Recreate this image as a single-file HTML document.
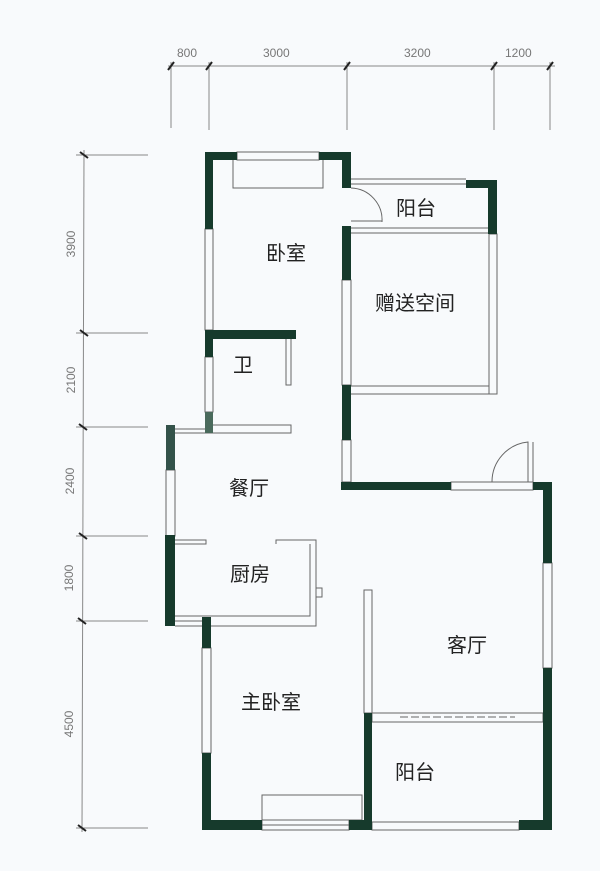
<!DOCTYPE html>
<html><head><meta charset="utf-8"><style>
html,body{margin:0;padding:0;background:#f8fafc;}
svg{display:block}
text{font-family:"Liberation Sans","Noto Sans CJK SC",sans-serif;}
.t{font-family:"Noto Serif CJK SC","Noto Sans CJK SC",serif;font-size:20px;fill:#222;}
.d{font-size:12px;fill:#777;}
</style></head><body>
<svg width="600" height="871" viewBox="0 0 600 871" xmlns="http://www.w3.org/2000/svg">
<rect width="600" height="871" fill="#f8fafc"/>
<g stroke="#888" stroke-width="1" fill="none">
<line x1="168" y1="66" x2="555" y2="66"/>
<line x1="171" y1="62" x2="171" y2="128"/><line x1="209" y1="62" x2="209" y2="130"/>
<line x1="347" y1="62" x2="347" y2="130"/><line x1="494" y1="62" x2="494" y2="130"/>
<line x1="550" y1="62" x2="550" y2="130"/>
<line x1="84" y1="150" x2="82" y2="832"/>
<line x1="76" y1="155" x2="148" y2="155"/><line x1="76" y1="333" x2="148" y2="333"/>
<line x1="76" y1="427" x2="148" y2="427"/><line x1="76" y1="536" x2="148" y2="536"/>
<line x1="76" y1="621" x2="148" y2="621"/><line x1="76" y1="828" x2="148" y2="828"/>
</g>
<g stroke="#222" stroke-width="2">
<line x1="168" y1="70" x2="174" y2="62"/><line x1="206" y1="70" x2="212" y2="62"/>
<line x1="344" y1="70" x2="350" y2="62"/><line x1="491" y1="70" x2="497" y2="62"/>
<line x1="547" y1="70" x2="553" y2="62"/>
<line x1="80" y1="152" x2="88" y2="158"/><line x1="80" y1="330" x2="88" y2="336"/>
<line x1="79" y1="424" x2="87" y2="430"/><line x1="79" y1="533" x2="87" y2="539"/>
<line x1="78" y1="618" x2="86" y2="624"/><line x1="78" y1="825" x2="86" y2="831"/>
</g>
<g class="d">
<text x="177" y="57">800</text><text x="263" y="57">3000</text>
<text x="404" y="57">3200</text><text x="505" y="57">1200</text>
<text transform="translate(75,244) rotate(-90)" text-anchor="middle">3900</text>
<text transform="translate(75,380) rotate(-90)" text-anchor="middle">2100</text>
<text transform="translate(74,481) rotate(-90)" text-anchor="middle">2400</text>
<text transform="translate(73,578) rotate(-90)" text-anchor="middle">1800</text>
<text transform="translate(73,724) rotate(-90)" text-anchor="middle">4500</text>
</g>
<g fill="none" stroke="#666" stroke-width="1">
<rect x="237" y="152" width="82" height="8"/><polyline points="233,160 233,188 323,188 323,160"/>
<line x1="351" y1="179" x2="466" y2="179"/><line x1="351" y1="184" x2="466" y2="184"/>
<line x1="351" y1="228" x2="489" y2="228"/><line x1="351" y1="233" x2="489" y2="233"/>
<path d="M351,188 A32,32 0 0 1 382,222"/><line x1="351" y1="221" x2="382" y2="221"/>
<rect x="205" y="229" width="8" height="101"/>
<rect x="342" y="280" width="9" height="105"/>
<rect x="489" y="234" width="8" height="160"/>
<line x1="351" y1="386" x2="489" y2="386"/><line x1="351" y1="394" x2="497" y2="394"/>
<polyline points="286,339 286,385 291,385 291,339"/>
<rect x="205" y="357" width="8" height="55"/>
<polyline points="213,425 291,425 291,433 175,433"/><line x1="175" y1="429" x2="213" y2="429"/>
<rect x="342" y="440" width="9" height="42"/>
<rect x="166" y="470" width="9" height="66"/>
<polyline points="175,540 206,540 206,544 175,544"/>
<polyline points="276,544 276,540 316,540 316,626 175,626"/>
<polyline points="310,544 310,616 175,616"/><line x1="175" y1="621" x2="202" y2="621"/>
<rect x="316" y="588" width="6" height="9"/>
<rect x="202" y="648" width="9" height="105"/>
<rect x="364" y="590" width="8" height="123"/>
<rect x="262" y="795" width="100" height="25"/><line x1="262" y1="825" x2="349" y2="825"/><rect x="262" y="820" width="87" height="10"/>
<rect x="451" y="482" width="82" height="8"/>
<path d="M492,482 A40,40 0 0 1 528,442 L528,482"/><line x1="533" y1="442" x2="533" y2="482"/>
<rect x="543" y="563" width="9" height="105"/>
<rect x="372" y="713" width="171" height="9"/>
<line x1="400" y1="717" x2="515" y2="717" stroke-dasharray="8,3"/>
<rect x="372" y="822" width="147" height="8"/>
</g>
<g fill="#163a2c">
<rect x="205" y="152" width="32" height="8"/><rect x="205" y="152" width="8" height="77"/>
<rect x="319" y="152" width="32" height="8"/><rect x="342" y="152" width="9" height="36"/>
<rect x="466" y="180" width="31" height="8"/><rect x="488" y="180" width="9" height="54"/>
<rect x="342" y="226" width="9" height="54"/>
<rect x="342" y="385" width="9" height="55"/>
<rect x="205" y="330" width="91" height="9"/><rect x="205" y="330" width="8" height="27"/>
<rect x="205" y="412" width="8" height="21" fill="#4a6a5c"/>
<rect x="166" y="425" width="9" height="45" fill="#33524a"/>
<rect x="165" y="535" width="10" height="91"/>
<rect x="202" y="617" width="9" height="31"/>
<rect x="202" y="753" width="9" height="77"/><rect x="202" y="820" width="60" height="10"/>
<rect x="349" y="820" width="23" height="10"/><rect x="364" y="713" width="8" height="117"/>
<rect x="341" y="482" width="110" height="8"/>
<rect x="533" y="482" width="19" height="8"/><rect x="543" y="482" width="9" height="81"/>
<rect x="543" y="668" width="9" height="162"/><rect x="519" y="820" width="33" height="10"/>
</g>
<g class="t">
<text x="266" y="260">卧室</text>
<text x="396" y="215">阳台</text>
<text x="375" y="310">赠送空间</text>
<text x="233" y="372">卫</text>
<text x="229" y="495">餐厅</text>
<text x="230" y="581">厨房</text>
<text x="447" y="652">客厅</text>
<text x="241" y="709">主卧室</text>
<text x="395" y="779">阳台</text>
</g>
</svg>
</body></html>
